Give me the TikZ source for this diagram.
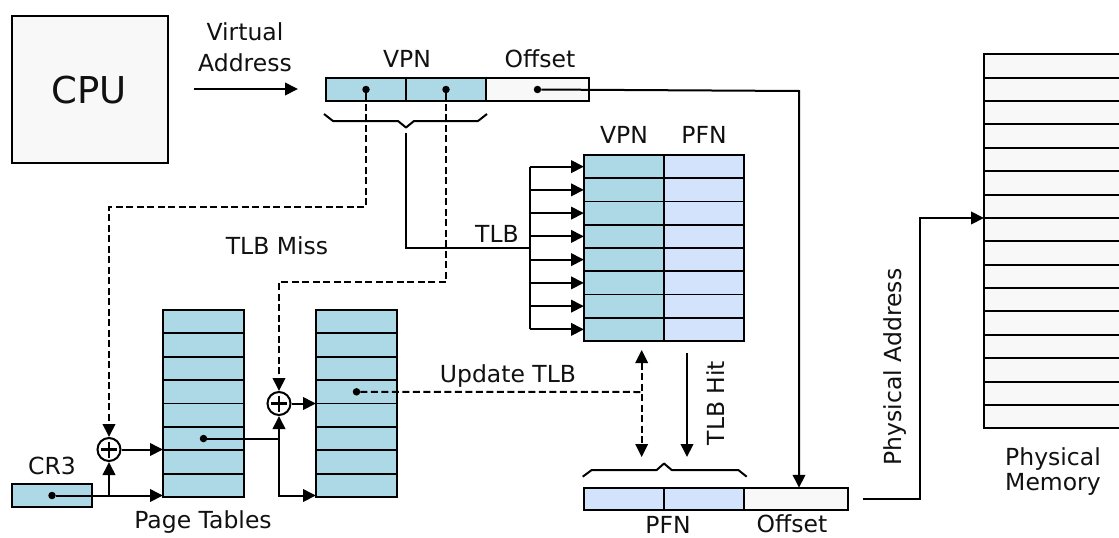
\documentclass[tikz,border=0pt]{standalone}
\usepackage{fontspec}
\setmainfont{DejaVu Sans}
\usetikzlibrary{arrows.meta}
\definecolor{vblue}{HTML}{ADD8E6}
\definecolor{pblue}{HTML}{D4E3FC}
\definecolor{offg}{HTML}{F8F8F8}
\definecolor{txt}{HTML}{111111}
\begin{document}
\begin{tikzpicture}[x=1pt,y=-1pt,
  lbl/.style={font=\fontsize{23.5}{28}\selectfont, inner sep=0, text=txt},
  cell/.style={draw, line width=1.9pt, inner sep=0, outer sep=0},
  tip/.style={-{Triangle[length=13pt,width=12.5pt]}},
  dtip/.style={{Triangle[length=13pt,width=12.5pt]}-{Triangle[length=13pt,width=12.5pt]}},
  ln/.style={line width=2pt},
  dsh/.style={line width=2pt, dash pattern=on 7pt off 3.5pt},
  dot/.style={circle, fill, inner sep=0, minimum size=7.5pt},
  adder/.style={circle, draw, fill=white, line width=2pt, minimum size=23pt, inner sep=0}]
\clip (0,0) rectangle (1119,538);
\fill[white] (0,0) rectangle (1119,538);

% CPU
\node[cell, line width=2.6pt, fill=offg, minimum width=156pt, minimum height=147pt] (cpu) at (90,89.5) {};
\node[lbl, font=\fontsize{37}{44}\selectfont] (cputxt) at (89,90) {CPU};

% Virtual address arrow
\node[lbl, align=center, font=\fontsize{23.5}{30.5}\selectfont] (vatxt) at (245,47) {Virtual\\Address};
\coordinate (va1) at (194,89);
\coordinate (va2) at (298,89);
\draw[ln,tip] (va1) -- (va2);

% VPN bar
\node[cell, fill=vblue, minimum width=80pt, minimum height=23pt] (v1) at (366,89.5) {};
\node[cell, fill=vblue, minimum width=80pt, minimum height=23pt] (v2) at (446,89.5) {};
\node[cell, fill=offg, minimum width=103pt, minimum height=23pt] (voff) at (537.5,89.5) {};
\node[lbl] (vpntxt) at (407,59) {VPN};
\node[lbl] (offtxt) at (540,59) {Offset};
\node[dot] (d1) at (v1.center) {};
\node[dot] (d2) at (v2.center) {};
\node[dot] (d3) at (voff.center) {};

% brace under VPN
\draw[ln, line join=round] (324,114) -- (333,121) -- (398,121) -- (406,127.5) -- (414,121) -- (478,121) -- (487,114);
\coordinate (brtip) at (406,133);

% TLB
\foreach \i in {1,...,8} {
  \node[cell, fill=vblue, minimum width=80pt, minimum height=23.25pt] (tv\i) at (624,{155+23.25*(\i-0.5)}) {};
  \node[cell, fill=pblue, minimum width=80pt, minimum height=23.25pt] (tp\i) at (704,{155+23.25*(\i-0.5)}) {};
}
\node[lbl] (tlbvpn) at (624,135) {VPN};
\node[lbl] (tlbpfn) at (704,135) {PFN};
\coordinate (busx) at (530,248);
\draw[ln] (tv1.west -| busx) -- (tv8.west -| busx);
\foreach \i in {1,...,8} {
  \draw[ln,tip] (tv\i.west -| busx) -- (tv\i.west);
}
\draw[ln] (brtip) -- (brtip |- busx) -- (busx);
\node[lbl] (tlbtxt) at (497,234) {TLB};

% Page tables
\foreach \i in {1,...,8} {
  \node[cell, fill=vblue, minimum width=81pt, minimum height=23.375pt] (pa\i) at (203.5,{310+23.375*(\i-0.5)}) {};
  \node[cell, fill=vblue, minimum width=81pt, minimum height=23.375pt] (pb\i) at (356.5,{310+23.375*(\i-0.5)}) {};
}
\node[lbl] (pttxt) at (203,522) {Page Tables};

% CR3
\node[cell, fill=vblue, minimum width=80pt, minimum height=23pt] (cr3) at (52,495.5) {};
\node[lbl] (cr3txt) at (52,466) {CR3};
\node[dot] (dcr3) at (cr3.center) {};

% adders
\node[adder] (plus1) at (109,449.5) {};
\node[adder] (plus2) at (279,403.5) {};
\foreach \p in {plus1,plus2} {
  \draw[line width=2.2pt] (\p.center) ++(-8,0) -- ++(16,0);
  \draw[line width=2.2pt] (\p.center) ++(0,-8) -- ++(0,16);
}

% TLB miss dashed paths
\coordinate (m1a) at (366,207);
\coordinate (m1b) at (109,207);
\draw[dsh,tip] (d1) -- (m1a) -- (m1b) -- (plus1.north);
\coordinate (m2a) at (446,282);
\coordinate (m2b) at (279,282);
\draw[dsh,tip] (d2) -- (m2a) -- (m2b) -- (plus2.north);
\node[lbl] (misstxt) at (277,246) {TLB Miss};

% CR3 to table 1
\coordinate (j1) at (plus1 |- dcr3);
\draw[ln,tip] (dcr3) -- (dcr3 -| pa1.west);
\draw[ln,tip] (j1) -- (plus1.south);
\draw[ln,tip] (plus1.east) -- (plus1.east -| pa1.west);

% table 1 to table 2
\node[dot] (dpa) at (pa6.center) {};
\coordinate (j2) at (plus2 |- dpa);
\coordinate (j3) at (plus2 |- dcr3);
\draw[ln,tip] (dpa) -- (j2) -- (plus2.south);
\draw[ln,tip] (j2) -- (j3) -- (j3 -| pb1.west);
\draw[ln,tip] (plus2.east) -- (plus2.east -| pb1.west);

% update TLB
\node[dot] (dpb) at (pb4.center) {};
\coordinate (u1) at (641.7,392);
\coordinate (u2) at (641.7,350);
\coordinate (u3) at (641.7,457);
\draw[dsh] (dpb) -- (u1);
\draw[dsh,dtip] (u2) -- (u3);
\node[lbl] (updtxt) at (508,376) {Update TLB};

% TLB hit
\coordinate (h1) at (687,353);
\coordinate (h2) at (687,457);
\draw[ln,tip] (h1) -- (h2);
\node[lbl, rotate=90] (hittxt) at (716,403) {TLB Hit};

% PFN bar
\node[cell, fill=pblue, minimum width=80pt, minimum height=22.5pt] (p1) at (624,499) {};
\node[cell, fill=pblue, minimum width=80pt, minimum height=22.5pt] (p2) at (704,499) {};
\node[cell, fill=offg, minimum width=103.5pt, minimum height=22.5pt] (poff) at (796,499) {};
\draw[ln, line join=round] (582.7,476.7) -- (591.7,470) -- (656.7,470) -- (664,463.5) -- (671.7,470) -- (738.3,470) -- (746.7,476.7);
\node[lbl] (pfntxt) at (668,525) {PFN};
\node[lbl] (poffttxt) at (792,524) {Offset};

% offset path
\coordinate (o1) at (799,91);
\draw[ln,tip] (d3) -- (o1) -- (o1 |- poff.north);

% memory
\foreach \i in {1,...,16} {
  \node[cell, fill=offg, minimum width=146pt, minimum height=23.375pt] (m\i) at (1057,{54.3+23.375*(\i-0.5)}) {};
}
\node[lbl, align=center, font=\fontsize{23.5}{25}\selectfont] (memtxt) at (1053,472) {Physical\\Memory};

% physical address
\coordinate (pa0) at (863,499);
\coordinate (pa1c) at (920,499);
\coordinate (pa2c) at (920,218);
\draw[ln,tip] (pa0) -- (pa1c) -- (pa2c) -- (pa2c -| m1.west);
\node[lbl, rotate=90] (phystxt) at (895,367) {Physical Address};
\end{tikzpicture}
\end{document}
